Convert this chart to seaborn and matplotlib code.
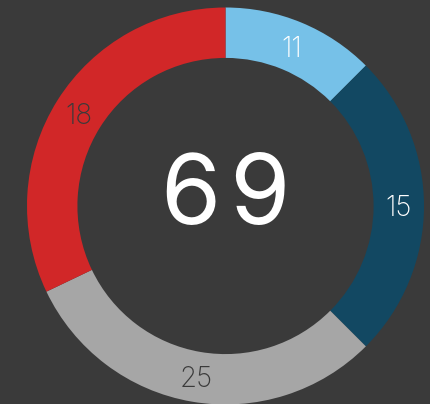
import matplotlib
matplotlib.use("Agg")
import matplotlib.pyplot as plt
import numpy as np
import seaborn as sns

# labels shown on the ring, and the share of the ring each arc covers (%)
values = [11, 15, 25, 18]
arc_shares = [12.5, 25.0, 30.4, 32.1]
colors = ["#76c1e8", "#124862", "#a6a6a6", "#d12728"]
label_colors = ["#ffffff", "#ffffff", "#3a3a3a", "#3a3a3a"]

bg = "#3a3a3a"
sns.set_theme(style="white")
plt.rcParams["font.family"] = ["Inter", "DejaVu Sans"]

fig = plt.figure(figsize=(4.31, 4.04), dpi=100, facecolor=bg)
W, H = 431, 404
cx, cy, r = 225.5, 206, 198.5
ax = fig.add_axes([(cx - r) / W, (H - cy - r) / H, 2 * r / W, 2 * r / H])
ax.set_facecolor(bg)

ax.pie(arc_shares, colors=colors, startangle=90, counterclock=False,
       radius=1, wedgeprops=dict(width=0.254, linewidth=0))
ax.set_xlim(-1, 1)
ax.set_ylim(-1, 1)
ax.axis("off")

start = 90.0
for v, share, c in zip(values, arc_shares, label_colors):
    span = share / sum(arc_shares) * 360
    mid = np.radians(start - span / 2)
    ax.text(0.872 * np.cos(mid), 0.872 * np.sin(mid), str(v), color=c,
            fontsize=20, fontweight="light", ha="center", va="center_baseline")
    start -= span

# wide tracking on the big total
ax.text(0.003, 0.086, "\u200a".join(str(sum(values))), color="white", fontsize=70,
        ha="center", va="center_baseline")

fig.savefig("out.png", dpi=100, facecolor=bg)
